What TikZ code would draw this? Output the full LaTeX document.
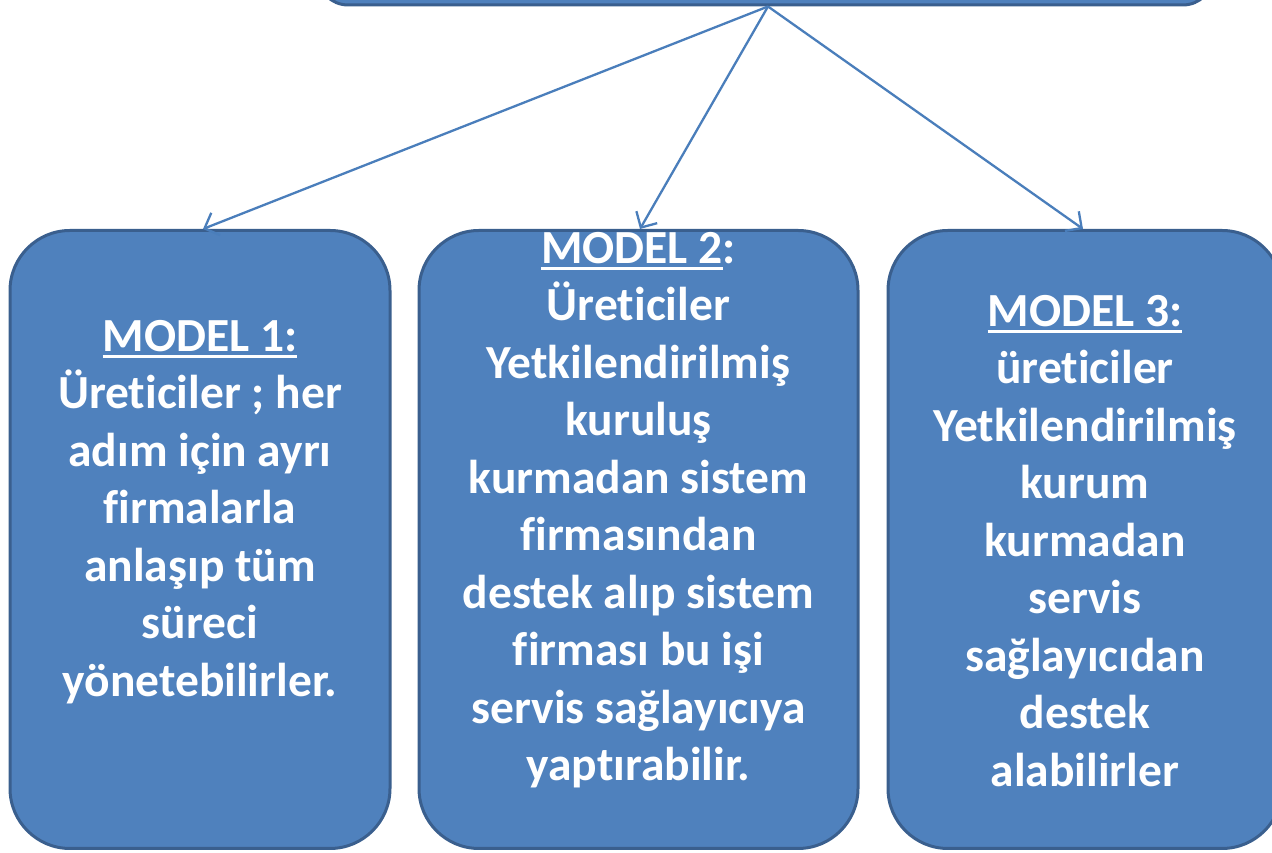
\documentclass[tikz,border=0pt]{standalone}
\usepackage{fontspec}
\setmainfont{Carlito}[Ligatures=NoCommon]
\usetikzlibrary{arrows.meta}
\definecolor{boxfill}{HTML}{4F81BD}
\definecolor{boxline}{HTML}{3A5F8E}
\definecolor{arrowc}{HTML}{4A7EBB}
\newcommand\myul[1]{\setbox0\hbox{#1}\rlap{\rule[-7pt]{\wd0}{3pt}}\box0}
\tikzset{
  modelbox/.style={draw=boxline, fill=boxfill, line width=3pt, rounded corners=60pt, minimum height=618pt, inner sep=0pt},
  modeltext/.style={text=white, font=\bfseries\fontsize{47.5}{57.5}\selectfont, align=center, inner sep=0pt},
  conn/.style={draw=arrowc, line width=2.3pt, -{Straight Barb[length=12pt,width=24pt,line width=2.3pt]}}
}
\begin{document}
\begin{tikzpicture}[x=1pt,y=1pt]
\useasboundingbox (0,0) rectangle (1272,853);
\clip (0,0) rectangle (1272,853);
\node[modelbox, minimum width=895pt, minimum height=200pt, rounded corners=30pt] (top) at (765.5,948) {};
\node[modelbox, minimum width=380pt] (b1) at (200,313.5) {};
\node[modelbox, minimum width=439pt] (b2) at (638.5,313.5) {};
\node[modelbox, minimum width=394pt] (b3) at (1085,313.5) {};
\node[modeltext] (t1) at (200,341) {\myul{MODEL 1:}\\Üreticiler ; her\\adım için ayrı\\firmalarla\\anlaşıp tüm\\süreci\\yönetebilirler.};
\node[modeltext] (t2) at (638.5,343) {\myul{MODEL 2}:\\Üreticiler\\Yetkilendirilmiş\\kuruluş\\kurmadan sistem\\firmasından\\destek alıp sistem\\firması bu işi\\servis sağlayıcıya\\yaptırabilir.};
\node[modeltext] (t3) at (1085,312) {\myul{MODEL 3:}\\üreticiler\\Yetkilendirilmiş\\kurum\\kurmadan\\servis\\sağlayıcıdan\\destek\\alabilirler};
\coordinate (src) at ([xshift=2.5pt]top.south);
\draw[conn] (src) -- ([xshift=3pt]b1.north);
\draw[conn] (src) -- ([xshift=1.5pt]b2.north);
\draw[conn] (src) -- ([xshift=-2pt]b3.north);
\end{tikzpicture}
\end{document}
